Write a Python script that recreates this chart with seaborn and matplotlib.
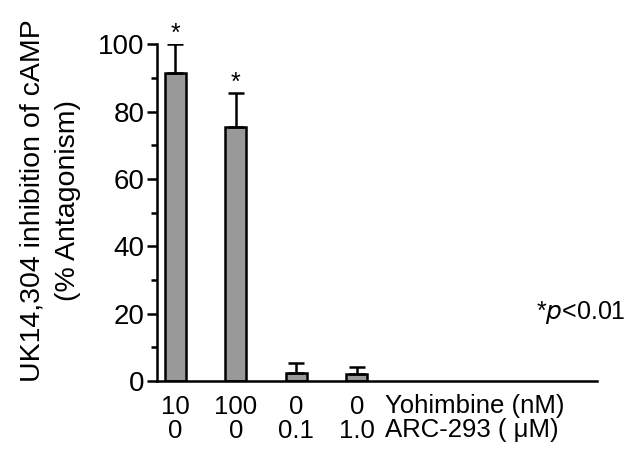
import numpy as np
import pandas as pd
import matplotlib
matplotlib.use("Agg")
import matplotlib.pyplot as plt
from matplotlib.ticker import MultipleLocator
from matplotlib.transforms import blended_transform_factory
import seaborn as sns

# values
yohimbine = ["10", "100", "0", "0"]
arc293 = ["0", "0", "0.1", "1.0"]
antagonism = [91.5, 75.5, 2.5, 2.0]
sem = [8.5, 10.0, 3.0, 2.1]
significant = [True, True, False, False]

sns.set_style("ticks")
plt.rcParams["font.family"] = ["Liberation Sans", "DejaVu Sans"]
plt.rcParams["text.color"] = "black"
plt.rcParams["axes.labelcolor"] = "black"
plt.rcParams["xtick.color"] = "black"
plt.rcParams["ytick.color"] = "black"
plt.rcParams["axes.edgecolor"] = "black"

conds = [f"{a}\n{b}" for a, b in zip(yohimbine, arc293)]
df = pd.DataFrame({"cond": conds, "val": antagonism})

fig = plt.figure(figsize=(6.26, 4.51), dpi=100)
ax = fig.add_axes([0.251, 0.155, 0.703, 0.747])

sns.barplot(data=df, x="cond", y="val", order=conds, color="#999999",
            saturation=1, width=0.35, edgecolor="black", linewidth=1.8,
            errorbar=None, ax=ax)
pos = np.arange(len(conds))
ax.errorbar(pos, antagonism, yerr=[np.zeros(len(sem)), sem], fmt="none",
            ecolor="black", elinewidth=1.8, capsize=6, capthick=1.8, zorder=1)

for x, v, e, s in zip(pos, antagonism, sem, significant):
    if s:
        ax.text(x, v + e - 0.5, "*", ha="center", va="bottom", fontsize=18,
                clip_on=False)

ax.set_xlim(-0.3, 6.97)
ax.set_ylim(0, 100)
ax.yaxis.set_major_locator(MultipleLocator(20))
ax.yaxis.set_minor_locator(MultipleLocator(10))
ax.tick_params(axis="y", which="major", length=7, width=1.8, labelsize=20, pad=2)
ax.tick_params(axis="y", which="minor", length=4, width=1.8)
ax.tick_params(axis="x", length=0, labelsize=18.5, pad=10)
for lab in ax.get_xticklabels():
    lab.set_linespacing(1.0)
ax.set_xlabel("")
ax.set_ylabel("UK14,304 inhibition of cAMP\n(% Antagonism)", fontsize=20.5,
              linespacing=1.5)
ax.yaxis.set_label_coords(-0.172, 0.535)
sns.despine(ax=ax)
for sp in ["left", "bottom"]:
    ax.spines[sp].set_linewidth(1.8)

trans = blended_transform_factory(ax.transData, ax.transAxes)
ax.text(3.47, -0.037, "Yohimbine (nM)\nARC-293 ( \u03bcM)", transform=trans,
        ha="left", va="top", fontsize=18.5, linespacing=1.0)

ax.text(1.065, 0.205, r"*$\it{p}$<0.01", transform=ax.transAxes, ha="right",
        va="center", fontsize=18)

fig.savefig("out.png", dpi=100)
